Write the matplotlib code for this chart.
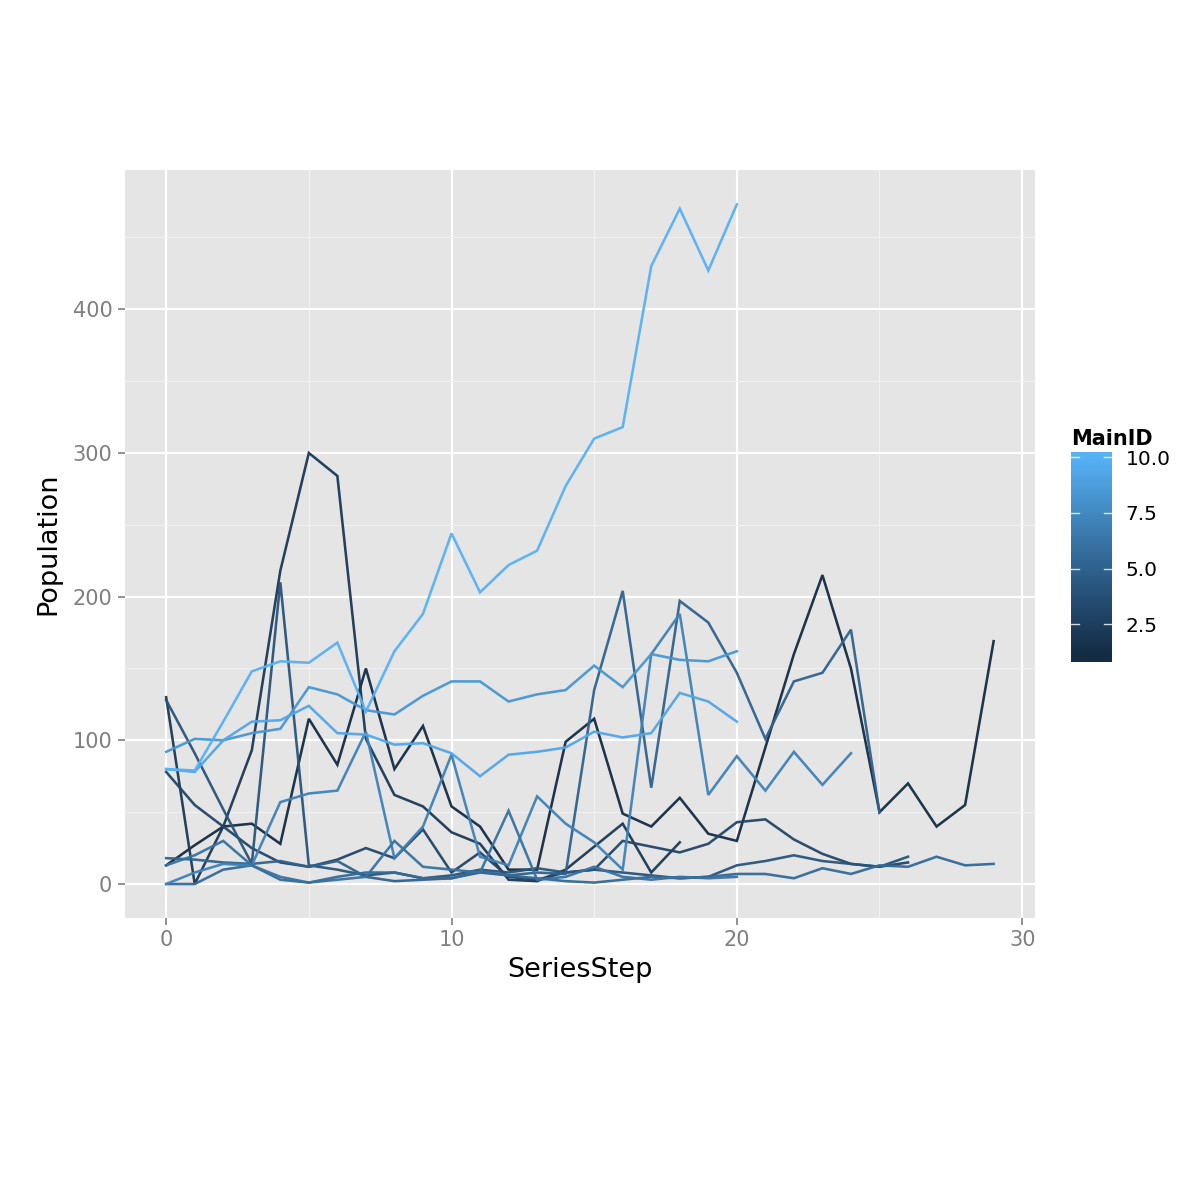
import numpy as np
import matplotlib
matplotlib.use("Agg")
import matplotlib.pyplot as plt
from matplotlib.colors import LinearSegmentedColormap, Normalize

# ---- data: one list per series, values start at SeriesStep 0 ----
main_ids = [1, 2, 3, 4, 5, 5.5, 7, 6, 8.3, 9.3, 10]
series = [
    [13, 27, 40, 42, 28, 115, 83, 150, 80, 110, 54, 40, 10, 10, 99, 115, 49, 40,
     60, 35, 30, 95, 160, 215, 150, 50, 70, 40, 55, 169],
    [130, 0, 40, 93, 218, 300, 284, 101, 62, 54, 36, 28, 3, 2, 10, 26, 42, 8, 29],
    [78, 55, 40, 25, 15, 12, 17, 25, 18, 38, 8, 22, 5, 3, 8, 10, 30, 26, 22, 28,
     43, 45, 31, 21, 14, 12, 15],
    [128, 91, 52, 14, 210, 13, 10, 6, 8, 4, 6, 10, 8, 11, 8, 10, 8, 6, 4, 5, 13,
     16, 20, 16, 14, 12, 19],
    [18, 17, 15, 14, 16, 12, 16, 5, 2, 3, 4, 8, 6, 8, 7, 135, 204, 67, 197, 182,
     147, 101, 141, 147, 177, 50],
    [0, 0, 10, 13, 3, 1, 5, 8, 8, 4, 4, 9, 6, 4, 2, 1, 3, 5, 4, 5, 7, 7, 4, 11,
     7, 13, 12, 19, 13, 14],
    [0, 8, 14, 13, 57, 63, 65, 106, 18, 40, 90, 19, 13, 61, 42, 29, 10, 160, 188,
     62, 89, 65, 92, 69, 91],
    [13, 20, 30, 13, 5, 1, 3, 5, 30, 12, 10, 8, 51, 3, 5, 12, 5, 3, 5, 4, 5],
    [92, 101, 100, 105, 108, 137, 132, 121, 118, 131, 141, 141, 127, 132, 135,
     152, 137, 160, 156, 155, 162],
    [80, 78, 100, 113, 114, 124, 105, 104, 97, 98, 91, 75, 90, 92, 95, 106, 102,
     105, 133, 127, 113],
    [80, 79, 113, 148, 155, 154, 168, 120, 162, 188, 244, 203, 222, 232, 277,
     310, 318, 430, 470, 427, 473],
]

x_ticks = [0, 10, 20, 30]
y_ticks = [0, 100, 200, 300, 400]
cbar_ticks = [2.5, 5.0, 7.5, 10.0]

# ggplot2 default continuous colour scale
cmap = LinearSegmentedColormap.from_list(
    "gg", ["#132B43", "#23496D", "#336A98", "#448DC6", "#56B1F7"])
norm = Normalize(vmin=1, vmax=10)

fig = plt.figure(figsize=(12, 12), dpi=100, facecolor="white")
ax = fig.add_axes([0.104, 0.235, 0.7585, 0.623])
ax.set_facecolor("#E5E5E5")

for mid, vals in zip(main_ids, series):
    ax.plot(range(len(vals)), vals, color=cmap(norm(mid)), lw=1.85,
            alpha=0.95, solid_joinstyle="miter", zorder=3)

ax.set_xlim(-1.45, 30.45)
ax.set_ylim(-23.65, 496.65)
ax.set_xticks(x_ticks)
ax.set_yticks(y_ticks)
ax.set_xticks([5, 15, 25], minor=True)
ax.set_yticks([50, 150, 250, 350, 450], minor=True)
ax.grid(which="major", color="white", lw=1.6, zorder=1)
ax.grid(which="minor", color="#F2F2F2", lw=0.7, zorder=1)
ax.set_axisbelow(True)
for s in ax.spines.values():
    s.set_visible(False)
ax.tick_params(which="major", colors="#7F7F7F", labelsize=15, length=5,
               width=1.2, pad=4)
ax.tick_params(which="minor", length=0)
ax.set_xlabel("SeriesStep", fontsize=19.5, labelpad=5)
ax.set_ylabel("Population", fontsize=19.5, labelpad=8)

# colourbar legend
cax = fig.add_axes([0.8925, 0.448, 0.034, 0.175])
grad = np.linspace(0.775, 10.225, 200).reshape(-1, 1)
cax.imshow(grad, aspect="auto", cmap=cmap, norm=norm, origin="lower",
           extent=[0, 1, 0.775, 10.225])
cax.set_xlim(0, 1)
cax.set_ylim(0.775, 10.225)
for t in cbar_ticks:
    cax.plot([0, 0.2], [t, t], color="white", lw=1, alpha=0.8)
    cax.plot([0.8, 1], [t, t], color="white", lw=1, alpha=0.8)
cax.set_xticks([])
cax.set_yticks(cbar_ticks)
cax.set_yticklabels(["2.5", "5.0", "7.5", "10.0"])
cax.yaxis.tick_right()
cax.tick_params(axis="y", length=0, labelsize=14.5, pad=10, colors="black")
for s in cax.spines.values():
    s.set_visible(False)
cax.set_title("MainID", fontsize=15, fontweight="bold", loc="left", pad=5)

fig.savefig("out.png", dpi=100, facecolor="white")
